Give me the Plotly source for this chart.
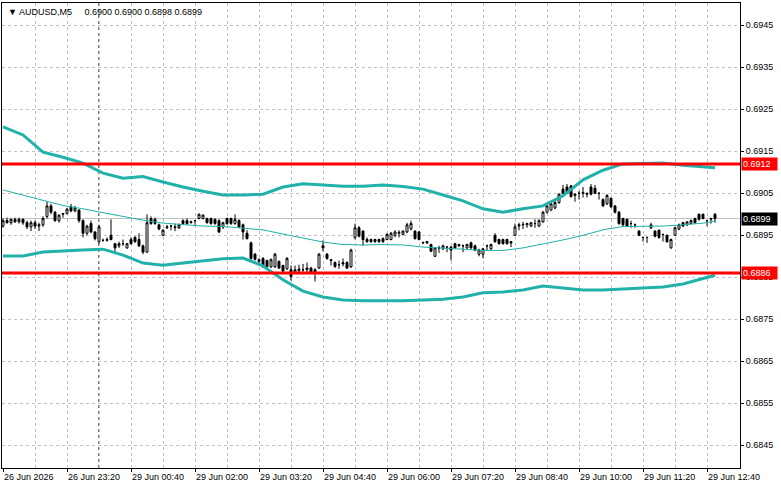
import plotly.graph_objects as go

# ---------------- data ----------------
OPEN = [.68972,.68985,.68980,.68988,.68982,.68988,.68980,.68970,.68980,.68972,
        .68975,.68995,.69020,.69005,.68985,.69000,.69002,.69018,.69008,.69010,
        .68985,.68955,.68978,.68958,.68935,.68938,.68938,.68950,.68930,.68925,
        .68930,.68920,.68940,.68945,.68940,.68925,.68910,.68990,.68988,.68975,
        .68950,.68968,.68972,.68968,.68968,.68985,.68985,.68980,.68985,.68990,
        .68990,.68990,.68990,.68988,.68985,.68970,.68990,.68990,.68978,.68985,
        .68975,.68955,.68932,.68905,.68892,.68895,.68890,.68875,.68875,.68888,
        .68878,.68870,.68868,.68862,.68870,.68868,.68868,.68872,.68868,.68872,
        .68925,.68905,.68892,.68885,.68880,.68885,.68885,.68875,.68945,.68968,
        .68960,.68940,.68940,.68940,.68940,.68942,.68940,.68940,.68950,.68955,
        .68952,.68958,.68965,.68960,.68958,.68933,.68935,.68928,.68900,.68920,
        .68918,.68922,.68922,.68930,.68925,.68925,.68920,.68932,.68925,.68905,
        .68905,.68925,.68918,.68950,.68940,.68940,.68940,.68935,.68950,.68972,
        .68975,.68975,.68972,.68978,.68972,.68982,.69005,.69010,.69015,.69028,
        .69060,.69065,.69068,.69045,.69050,.69050,.69050,.69065,.69062,.69050,
        .69035,.69025,.69038,.69020,.69005,.68990,.68988,.68978,.68975,.68960,
        .68945,.68945,.68968,.68960,.68962,.68952,.68950,.68920,.68950,.68965,
        .68980,.68975,.68978,.68990,.69000,.69000,.68985,.68988,.69000]
HIGH = [.68990,.68992,.68990,.68992,.68992,.68990,.68985,.68985,.68985,.68980,
        .68995,.69030,.69025,.69008,.69000,.69002,.69015,.69025,.69020,.69012,
        .68988,.68975,.68985,.68960,.68975,.68942,.68945,.68988,.68932,.68935,
        .68940,.68932,.68945,.68948,.68955,.68928,.69000,.68995,.68992,.68978,
        .68965,.68975,.68975,.68978,.68978,.68988,.68990,.68985,.68985,.69002,
        .69000,.68992,.68992,.68990,.68988,.68982,.68992,.68992,.69000,.68988,
        .68978,.68962,.68935,.68908,.68895,.68898,.68892,.68895,.68908,.68890,
        .68880,.68898,.68878,.68878,.68880,.68882,.68885,.68875,.68872,.68908,
        .68938,.68908,.68892,.68888,.68890,.68895,.68888,.68918,.68978,.68972,
        .68962,.68945,.68942,.68942,.68942,.68945,.68955,.68958,.68962,.68962,
        .68962,.68980,.68985,.68962,.68960,.68935,.68936,.68930,.68922,.68925,
        .68928,.68924,.68925,.68932,.68930,.68928,.68930,.68935,.68928,.68918,
        .68920,.68928,.68930,.68955,.68942,.68942,.68942,.68936,.68978,.68980,
        .68982,.68980,.68982,.68988,.68988,.69008,.69022,.69028,.69035,.69050,
        .69070,.69072,.69070,.69050,.69055,.69065,.69052,.69072,.69070,.69052,
        .69038,.69048,.69040,.69022,.69008,.68992,.68990,.68985,.68978,.68962,
        .68946,.68946,.68980,.68962,.68964,.68954,.68952,.68942,.68970,.68978,
        .68982,.68984,.68988,.68992,.69002,.69002,.68986,.68992,.69003]
LOW = [.68968,.68978,.68975,.68980,.68978,.68975,.68965,.68960,.68965,.68960,
       .68970,.68990,.69000,.68982,.68980,.68992,.69000,.69005,.69005,.68980,
       .68945,.68950,.68955,.68938,.68930,.68935,.68935,.68938,.68905,.68920,
       .68925,.68918,.68928,.68932,.68922,.68905,.68908,.68975,.68975,.68962,
       .68948,.68965,.68962,.68960,.68965,.68975,.68975,.68978,.68975,.68988,
       .68988,.68978,.68975,.68975,.68955,.68965,.68975,.68975,.68975,.68968,
       .68940,.68940,.68892,.68890,.68878,.68872,.68872,.68872,.68872,.68870,
       .68860,.68868,.68842,.68858,.68862,.68860,.68860,.68858,.68840,.68870,
       .68912,.68892,.68878,.68872,.68870,.68876,.68870,.68872,.68940,.68945,
       .68925,.68932,.68932,.68932,.68932,.68932,.68938,.68938,.68945,.68945,
       .68950,.68955,.68962,.68940,.68938,.68930,.68930,.68910,.68898,.68908,
       .68915,.68910,.68890,.68918,.68922,.68910,.68918,.68918,.68912,.68900,
       .68895,.68915,.68915,.68932,.68928,.68928,.68928,.68922,.68948,.68962,
       .68965,.68968,.68970,.68968,.68970,.68980,.69002,.69008,.69012,.69025,
       .69048,.69048,.69040,.69030,.69035,.69040,.69040,.69045,.69048,.69035,
       .69018,.69022,.69015,.69002,.68975,.68972,.68970,.68968,.68968,.68948,
       .68935,.68932,.68965,.68945,.68942,.68935,.68932,.68918,.68948,.68962,
       .68970,.68972,.68976,.68978,.68985,.68988,.68972,.68978,.68980]
CLOSE = [.68985,.68980,.68988,.68982,.68988,.68980,.68970,.68980,.68972,.68975,
         .68990,.69020,.69005,.68985,.68998,.69002,.69012,.69008,.69015,.68985,
         .68955,.68972,.68958,.68942,.68970,.68938,.68940,.68940,.68920,.68930,
         .68930,.68930,.68930,.68935,.68925,.68910,.68980,.68978,.68978,.68965,
         .68962,.68970,.68972,.68970,.68975,.68978,.68978,.68982,.68985,.69000,
         .68998,.68980,.68978,.68978,.68958,.68980,.68978,.68978,.68988,.68970,
         .68958,.68942,.68895,.68893,.68888,.68875,.68875,.68892,.68905,.68872,
         .68865,.68895,.68852,.68868,.68866,.68868,.68872,.68862,.68860,.68905,
         .68920,.68895,.68890,.68876,.68880,.68882,.68872,.68915,.68968,.68948,
         .68940,.68935,.68935,.68935,.68935,.68935,.68952,.68955,.68958,.68957,
         .68960,.68975,.68978,.68942,.68940,.68932,.68932,.68912,.68920,.68920,
         .68925,.68922,.68915,.68920,.68928,.68925,.68928,.68920,.68915,.68915,
         .68918,.68925,.68928,.68935,.68930,.68930,.68930,.68932,.68970,.68975,
         .68976,.68978,.68980,.68978,.68985,.69005,.69020,.69025,.69028,.69048,
         .69050,.69050,.69042,.69048,.69050,.69052,.69048,.69048,.69050,.69050,
         .69020,.69045,.69018,.69005,.68978,.68975,.68972,.68978,.68975,.68950,
         .68945,.68945,.68975,.68948,.68945,.68952,.68935,.68940,.68968,.68975,
         .68972,.68982,.68985,.68980,.68988,.68990,.68985,.68990,.68990]

# Bollinger band readings (bar index, price)
BAND_BARS = [0,5,10,15,20,25,30,35,40,45,50,55,60,65,70,75,80,85,90,95,
             100,105,110,115,120,125,130,135,140,145,150,155,160,165,170,175,178]
BB_UPPER = [.69208,.69189,.69148,.69136,.69122,.69098,.69086,.69090,.69077,.69065,
            .69055,.69046,.69046,.69048,.69065,.69073,.69070,.69067,.69067,.69070,
            .69066,.69060,.69046,.69032,.69013,.69005,.69013,.69020,.69044,.69082,
            .69105,.69120,.69121,.69122,.69117,.69113,.69111]
BB_MIDDLE = [.69058,.69046,.69034,.69021,.69013,.69004,.68996,.68986,.68979,.68976,
             .68972,.68971,.68967,.68963,.68953,.68944,.68934,.68928,.68927,.68928,
             .68927,.68922,.68920,.68917,.68914,.68914,.68920,.68929,.68939,.68950,
             .68963,.68971,.68972,.68972,.68975,.68979,.68984]
BB_LOWER = [.68901,.68901,.68910,.68913,.68915,.68917,.68903,.68884,.68879,.68884,
            .68889,.68894,.68896,.68877,.68844,.68817,.68803,.68796,.68794,.68794,
            .68794,.68796,.68798,.68803,.68813,.68815,.68820,.68829,.68825,.68820,
            .68820,.68822,.68825,.68827,.68834,.68848,.68855]

TICK_BARS = [0,16,32,48,64,80,96,112,128,144,160,176]
TICK_LABELS = ["26 Jun 2026","26 Jun 23:20","29 Jun 00:40","29 Jun 02:00",
               "29 Jun 03:20","29 Jun 04:40","29 Jun 06:00","29 Jun 07:20",
               "29 Jun 08:40","29 Jun 10:00","29 Jun 11:20","29 Jun 12:40"]
DAY_SEPARATOR_BAR = 24
LEVELS = [0.6912, 0.6886]
LEVEL_LABELS = ["0.6912", "0.6886"]
BID = 0.6899
BID_LABEL = "0.6899"
SYMBOL = "AUDUSD,M5"
OHLC_TEXT = "0.6900 0.6900 0.6898 0.6899"
TITLE = "\u25BC " + SYMBOL + "\u00a0" * 5 + OHLC_TEXT

FONT = "Liberation Sans, Arial, sans-serif"
FS = 9
TEAL = "#20b2aa"
GRID = "#c0c0c0"

bars = list(range(len(CLOSE)))

fig = go.Figure()
fig.add_trace(go.Candlestick(
    x=bars, open=OPEN, high=HIGH, low=LOW, close=CLOSE,
    increasing=dict(line=dict(color="black", width=1), fillcolor="white"),
    decreasing=dict(line=dict(color="black", width=1), fillcolor="black"),
    whiskerwidth=0, hoverinfo="skip", showlegend=False))
fig.add_trace(go.Scatter(x=BAND_BARS, y=BB_MIDDLE, mode="lines",
                         line=dict(color=TEAL, width=1), showlegend=False, hoverinfo="skip"))
fig.add_trace(go.Scatter(x=BAND_BARS, y=BB_UPPER, mode="lines",
                         line=dict(color=TEAL, width=3), showlegend=False, hoverinfo="skip"))
fig.add_trace(go.Scatter(x=BAND_BARS, y=BB_LOWER, mode="lines",
                         line=dict(color=TEAL, width=3), showlegend=False, hoverinfo="skip"))

# bid line
fig.add_shape(type="line", xref="paper", x0=0, x1=1, yref="y", y0=BID, y1=BID,
              line=dict(color=GRID, width=1), layer="below")
# day separator
fig.add_shape(type="line", xref="x", x0=DAY_SEPARATOR_BAR, x1=DAY_SEPARATOR_BAR,
              yref="paper", y0=0, y1=1, line=dict(color="black", width=1, dash="3px,3px"),
              layer="below")
# horizontal levels
for lv, lab in zip(LEVELS, LEVEL_LABELS):
    fig.add_shape(type="line", xref="paper", x0=0, x1=1, yref="y", y0=lv, y1=lv,
                  line=dict(color="red", width=3), layer="above")
    fig.add_annotation(xref="paper", x=1, xanchor="left", yref="y", y=lv,
                       text=lab, showarrow=False, bgcolor="red",
                       font=dict(family=FONT, size=FS, color="white"),
                       width=33, align="left", borderpad=1, xshift=1)
fig.add_annotation(xref="paper", x=1, xanchor="left", yref="y", y=BID,
                   text=BID_LABEL, showarrow=False, bgcolor="black",
                   font=dict(family=FONT, size=FS, color="white"),
                   width=33, align="left", borderpad=1, xshift=1)
fig.add_annotation(xref="paper", x=0, xanchor="left", yref="paper", y=1, yanchor="top",
                   text=TITLE, showarrow=False, xshift=4, yshift=-2,
                   font=dict(family=FONT, size=FS, color="black"))

fig.update_layout(
    width=781, height=489,
    margin=dict(l=2, r=41, t=3, b=21),
    paper_bgcolor="white", plot_bgcolor="white",
    showlegend=False,
    font=dict(family=FONT, size=FS, color="black"),
    xaxis=dict(
        range=[-0.25, 184.25], rangeslider=dict(visible=False),
        tickmode="array", tickvals=TICK_BARS, ticktext=TICK_LABELS,
        tickangle=0,
        ticks="outside", ticklen=3, tickcolor="black",
        ticklabelposition="outside right",
        showgrid=True, gridcolor=GRID, griddash="3px,3px", gridwidth=1,
        minor=dict(tickmode="linear", dtick=8, tick0=0, showgrid=True,
                   gridcolor=GRID, griddash="3px,3px", ticks=""),
        showline=True, linecolor="black", linewidth=1, mirror=True,
        zeroline=False, fixedrange=True,
        tickfont=dict(family=FONT, size=FS, color="black"),
    ),
    yaxis=dict(
        range=[0.683960, 0.695031], side="right",
        tickmode="linear", tick0=0.6845, dtick=0.001, tickformat=".4f",
        ticks="outside", ticklen=3, tickcolor="black",
        showgrid=True, gridcolor=GRID, griddash="3px,3px", gridwidth=1,
        showline=True, linecolor="black", linewidth=1, mirror=True,
        zeroline=False, fixedrange=True,
        tickfont=dict(family=FONT, size=FS, color="black"),
    ),
)

fig.write_html("out.html")
